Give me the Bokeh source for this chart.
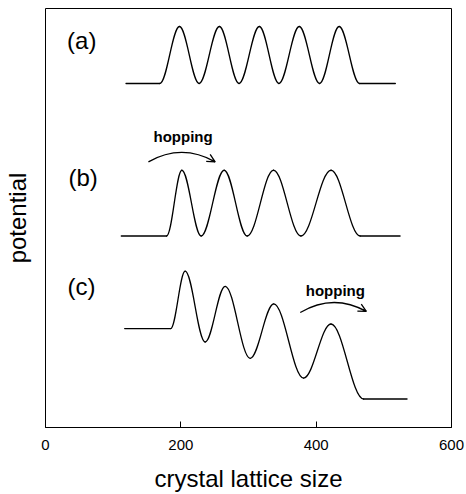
from bokeh.plotting import figure
from bokeh.models import Range1d, FixedTicker, Arrow, OpenHead, Label
from bokeh.embed import file_html
from bokeh.resources import INLINE

# ---- data ----
x_ticks = [0, 200, 400, 600]

# extrema / key points of each potential curve
a_x = [119, 169, 198, 227, 257, 286, 316, 345, 375, 405, 434, 464, 517]
a_y = [82.1, 82.1, 95.7, 82.1, 95.7, 82.1, 95.7, 82.1, 95.7, 82.1, 95.7, 82.1, 82.1]

b_x = [112, 179, 201.5, 230, 264, 298, 337, 377.5, 422, 465, 524]
b_y = [45.7, 45.7, 61.4, 45.7, 61.4, 45.7, 61.4, 45.7, 61.4, 45.7, 45.7]

c_x = [117, 185, 206.4, 235.9, 265.5, 302.5, 337.3, 381.4, 421.9, 470.1, 534.3]
c_y = [23.6, 23.6, 37.3, 20.4, 33.7, 16.5, 29.5, 11.8, 24.7, 6.8, 6.8]

panel_labels = ["(a)", "(b)", "(c)"]
panel_label_x = [53.6, 55.5, 53.3]
panel_label_y = [92.4, 59.6, 33.6]

hop_text = ["hopping", "hopping"]
hop_x = [203.3, 428.3]
hop_y = [69.4, 32.6]
# arc: start, control, end
hop_arcs = [
    (152.1, 63.4, 201.4, 67.9, 250.7, 63.4),
    (376.5, 27.45, 425.3, 32.1, 474.1, 27.7),
]

FONT = "Liberation Sans"

p = figure(width=466, height=494, output_backend="svg", toolbar_location=None,
           x_range=Range1d(0, 600), y_range=Range1d(0, 100),
           min_border_left=45, min_border_right=15, min_border_top=8,
           min_border_bottom=66)
p.grid.visible = False
p.outline_line_color = "black"
p.outline_line_width = 1
p.background_fill_color = "white"
p.border_fill_color = "white"

# x axis
xa = p.xaxis[0]
xa.ticker = FixedTicker(ticks=x_ticks)
xa.major_tick_in = 6
xa.major_tick_out = 0
xa.minor_tick_line_color = None
xa.major_tick_line_color = "black"
xa.axis_line_color = "black"
xa.major_label_text_font = FONT
xa.major_label_text_font_size = "15px"
xa.major_label_text_color = "black"
xa.major_label_standoff = 12
xa.axis_label = "crystal lattice size"
xa.axis_label_text_font = FONT
xa.axis_label_text_font_size = "24px"
xa.axis_label_text_font_style = "normal"
xa.axis_label_text_color = "black"
xa.axis_label_standoff = 12

# y axis: label only
ya = p.yaxis[0]
ya.ticker = FixedTicker(ticks=[])
ya.major_tick_line_color = None
ya.minor_tick_line_color = None
ya.axis_line_color = None
ya.axis_label = "potential"
ya.axis_label_text_font = FONT
ya.axis_label_text_font_size = "24px"
ya.axis_label_text_font_style = "normal"
ya.axis_label_text_color = "black"
ya.axis_label_standoff = 15

K = 0.3634  # cubic approximation of a cosine half-wave


def draw_curve(xs, ys):
    x0, x1 = xs[:-1], xs[1:]
    y0, y1 = ys[:-1], ys[1:]
    cx0 = [a + K * (b - a) for a, b in zip(x0, x1)]
    cx1 = [b - K * (b - a) for a, b in zip(x0, x1)]
    p.bezier(x0=x0, y0=y0, x1=x1, y1=y1, cx0=cx0, cy0=y0, cx1=cx1, cy1=y1,
             line_color="black", line_width=1.3, line_cap="round")


for xs, ys in [(a_x, a_y), (b_x, b_y), (c_x, c_y)]:
    draw_curve(xs, ys)

for t, x, y in zip(panel_labels, panel_label_x, panel_label_y):
    p.add_layout(Label(x=x, y=y, text=t, text_align="center", text_baseline="middle",
                       text_font=FONT, text_font_size="24px", text_color="black"))

for t, x, y in zip(hop_text, hop_x, hop_y):
    p.add_layout(Label(x=x, y=y, text=t, text_align="center", text_baseline="middle",
                       text_font=FONT, text_font_size="15px",
                       text_font_style="bold", text_color="black"))

for (sx, sy, cx, cy, ex, ey) in hop_arcs:
    p.quadratic(x0=[sx], y0=[sy], x1=[ex], y1=[ey], cx=[cx], cy=[cy],
                line_color="black", line_width=1.3)
    tx, ty = ex - cx, ey - cy
    p.add_layout(Arrow(end=OpenHead(size=8, line_width=1.3, line_color="black"),
                       x_start=ex - 0.1 * tx, y_start=ey - 0.1 * ty,
                       x_end=ex, y_end=ey, line_width=1.3, line_color="black"))

open("out.html", "w").write(file_html(p, INLINE))
